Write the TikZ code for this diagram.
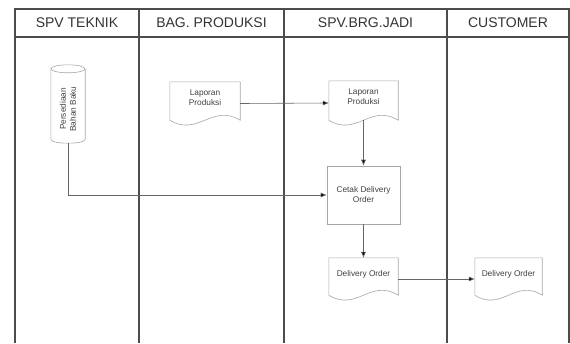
\documentclass[tikz,border=0pt]{standalone}
\usepackage{fontspec}
\setmainfont{Liberation Sans}
\usetikzlibrary{arrows.meta,calc}
\tikzset{
  lane/.style={draw=black!70, line width=1.1pt},
  head/.style={font=\fontsize{14}{16}\selectfont, text=black!80, inner sep=0pt},
  shapeline/.style={draw=black!35, line width=0.6pt},
  box/.style={draw=none, inner sep=0pt, minimum width=#1},
  small/.style={font=\fontsize{8.3}{10}\selectfont, text=black!75, align=center, inner sep=0pt},
  conn/.style={draw=black!60, line width=0.6pt},
  arr/.style={conn, -{Latex[length=6pt,width=5pt,fill=black]}},
}
\newcommand\docshape[5]{%
  \node[box=#4, minimum height=#5] (#1) at (#2,#3) {};
  \draw[shapeline] ($(#1.south west)+(0,-5)$) -- (#1.north west) -- (#1.north east) -- ($(#1.south east)+(0,-5)$)
    .. controls ($(#1.south west)!0.6!(#1.south east)+(0,-22)$) and ($(#1.south west)!0.4!(#1.south east)+(0,12)$) .. ($(#1.south west)+(0,-5)$);
}
\begin{document}
\begin{tikzpicture}[x=1pt,y=-1pt]
\useasboundingbox (0,0) rectangle (570,343);
% swimlane frame
\draw[lane] (15,343) -- (15,9) -- (569,9) -- (569,343);
\draw[lane] (15,37) -- (569,37);
\draw[lane] (139,9) -- (139,343);
\draw[lane] (284,9) -- (284,343);
\draw[lane] (447,9) -- (447,343);
\node[head] (h1) at (77,23) {SPV TEKNIK};
\node[head] (h2) at (211.5,23) {BAG. PRODUKSI};
\node[head] (h3) at (365.5,23) {SPV.BRG.JADI};
\node[head] (h4) at (508,23) {CUSTOMER};

% cylinder
\node[box=34pt, minimum height=78pt] (cyl) at (68,104) {};
\draw[shapeline] ($(cyl.north)+(0,4)$) ellipse [x radius=17pt, y radius=4pt];
\draw[shapeline] ($(cyl.north west)+(0,4)$) -- ($(cyl.south west)+(0,-4)$)
  .. controls ($(cyl.south west)+(0,1.33)$) and ($(cyl.south east)+(0,1.33)$) .. ($(cyl.south east)+(0,-4)$)
  -- ($(cyl.north east)+(0,4)$);
\node[small, rotate=90] (cyltxt) at ($(cyl.center)+(0,5)$) {Persediaan\\Bahan Baku};

% documents
\docshape{lapB}{205}{103.5}{70pt}{43pt}
\node[small] (lapBt) at ($(lapB.center)+(0,-6)$) {Laporan\\Produksi};
\docshape{lapS}{363.5}{103}{69pt}{44pt}
\node[small] (lapSt) at ($(lapS.center)+(0,-6)$) {Laporan\\Produksi};

% process box
\node[draw=black!35, line width=0.6pt, minimum width=73pt, minimum height=58pt, inner sep=0pt] (cetak) at (363.5,195) {};
\node[small] (cetakt) at (cetak.center) {Cetak Delivery\\Order};

\docshape{doS}{363.5}{279}{69pt}{42pt}
\node[small] (doSt) at ($(doS.center)+(0,-5)$) {Delivery Order};
\docshape{doC}{508.5}{279}{67pt}{42pt}
\node[small] (doCt) at ($(doC.center)+(0,-5)$) {Delivery Order};

% connectors
\draw[arr] (cyl.south) |- (cetak.west);
\draw[arr] (lapB.east) -- (lapS.west);
\draw[arr] ($(lapS.south)+(0,-5)$) -- (cetak.north);
\draw[arr] (cetak.south) -- (doS.north);
\draw[arr] (doS.east) -- (doC.west);
\end{tikzpicture}
\end{document}
